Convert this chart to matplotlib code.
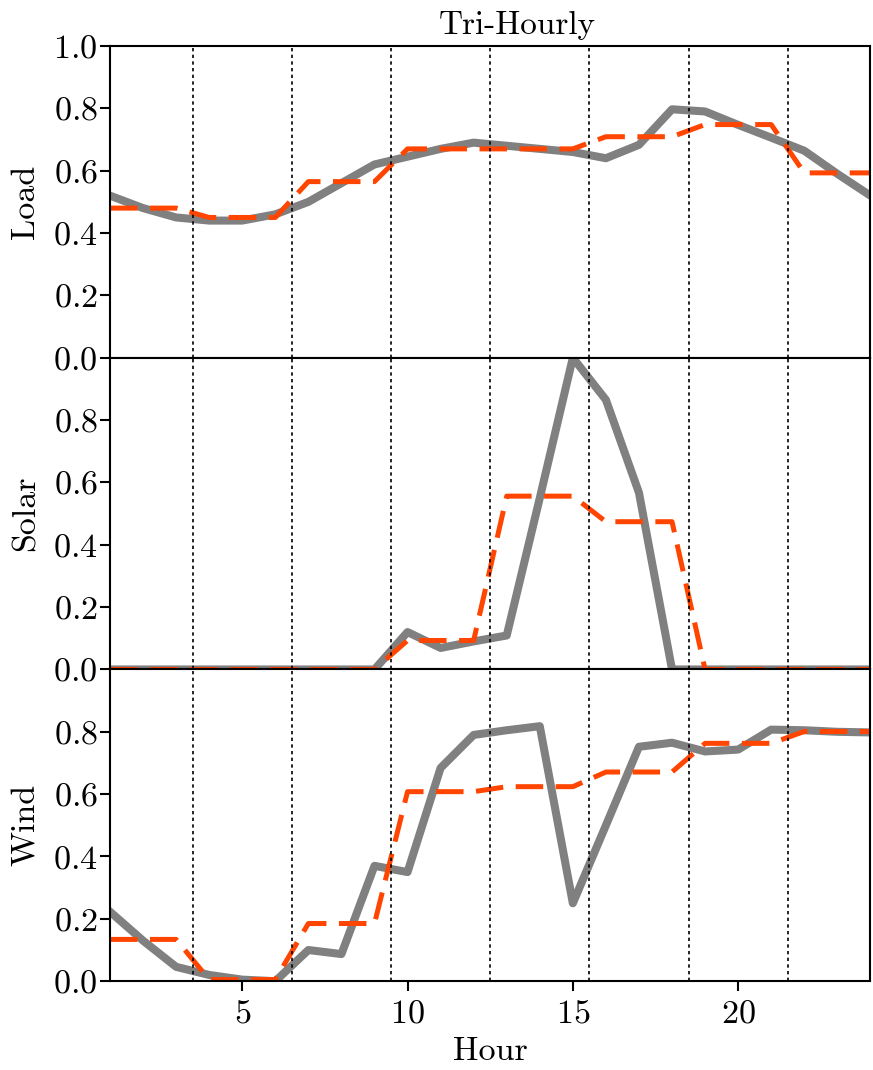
import numpy as np
import matplotlib
matplotlib.use("Agg")
import matplotlib.pyplot as plt

plt.rcParams['font.family'] = ['cmr10', 'DejaVu Serif']
plt.rcParams['mathtext.fontset'] = 'cm'
plt.rcParams['axes.formatter.use_mathtext'] = True
plt.rcParams['font.size'] = 24.5

# %%
# hourly values
hours = list(range(1, 25))

load_hourly = [0.52, 0.48, 0.45, 0.44, 0.44, 0.46, 0.50, 0.56, 0.62, 0.645, 0.67, 0.69,
               0.68, 0.67, 0.66, 0.64, 0.683, 0.797, 0.79, 0.747, 0.706, 0.664, 0.59, 0.52]
load_tri = [0.48, 0.48, 0.48, 0.45, 0.45, 0.45, 0.565, 0.565, 0.565, 0.67, 0.67, 0.67,
            0.67, 0.67, 0.67, 0.709, 0.709, 0.709, 0.748, 0.748, 0.748, 0.593, 0.593, 0.593]

solar_hourly = [0, 0, 0, 0, 0, 0, 0, 0, 0, 0.12, 0.069, 0.09,
                0.109, 0.55, 1.0, 0.865, 0.567, 0, 0, 0, 0, 0, 0, 0]
solar_tri = [0, 0, 0, 0, 0, 0, 0, 0, 0, 0.093, 0.093, 0.093,
             0.556, 0.556, 0.556, 0.474, 0.474, 0.474, 0, 0, 0, 0, 0, 0]

wind_hourly = [0.223, 0.13, 0.046, 0.02, 0.005, 0.0, 0.10, 0.087, 0.37, 0.35, 0.684, 0.79,
               0.805, 0.818, 0.25, 0.50, 0.752, 0.765, 0.737, 0.743, 0.807, 0.805, 0.80, 0.798]
wind_tri = [0.134, 0.134, 0.134, 0.005, 0.005, 0.005, 0.185, 0.185, 0.185, 0.608, 0.608, 0.608,
            0.624, 0.624, 0.624, 0.671, 0.671, 0.671, 0.763, 0.763, 0.763, 0.801, 0.801, 0.801]

block_edges = [3.5, 6.5, 9.5, 12.5, 15.5, 18.5, 21.5]

panels = [("Load", load_hourly, load_tri),
          ("Solar", solar_hourly, solar_tri),
          ("Wind", wind_hourly, wind_tri)]

# %%
fig, axes = plt.subplots(3, 1, figsize=(8.73, 10.7), dpi=100, sharex=True)
fig.subplots_adjust(left=0.126, right=0.997, bottom=0.083, top=0.957, hspace=0)

for i, (name, hourly, tri) in enumerate(panels):
    ax = axes[i]
    for e in block_edges:
        ax.axvline(e, color='black', linestyle=(0, (2, 2)), linewidth=1.2, zorder=3)
    ax.plot(hours, hourly, color='gray', linewidth=5.8, zorder=2)
    ax.plot(hours, tri, color='#ff4500', linewidth=3.6, dashes=(5.5, 2.5), zorder=2.5)
    ax.set_xlim(1, 24)
    ax.set_ylim(0, 1.0)
    if i == 0:
        ax.set_yticks([0, 0.2, 0.4, 0.6, 0.8, 1.0])
        ax.set_title("Tri-Hourly", fontsize=24, x=0.535, pad=9)
    else:
        ax.set_yticks([0, 0.2, 0.4, 0.6, 0.8])
    ax.set_ylabel(name, labelpad=9)
    ax.tick_params(direction='out', length=7.5, width=1.5, top=False, right=False)
    ax.tick_params(axis='y', pad=1.5)
    ax.tick_params(axis='x', pad=6)
    for s in ax.spines.values():
        s.set_linewidth(1.5)

axes[-1].set_xticks([5, 10, 15, 20])
axes[-1].set_xlabel("Hour", labelpad=6)

fig.savefig("out.png", dpi=100)
